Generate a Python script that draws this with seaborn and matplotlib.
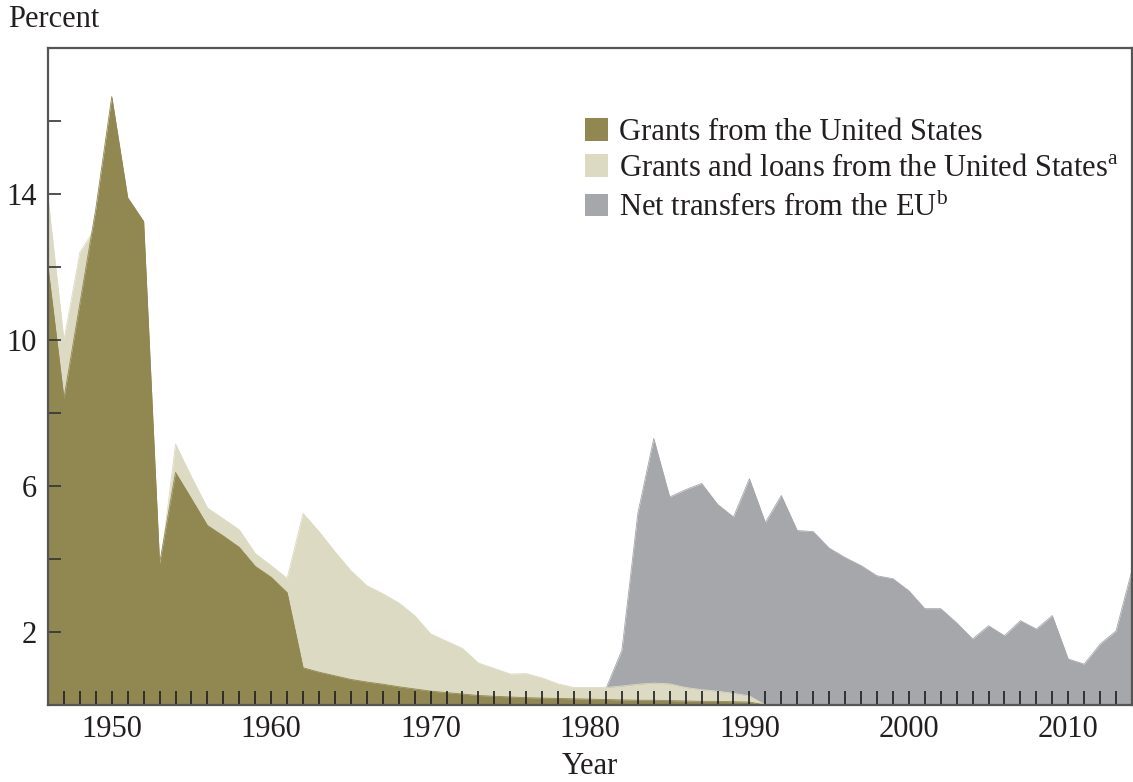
import pandas as pd
import seaborn as sns
import matplotlib.pyplot as plt
from matplotlib.patches import Patch

# anos e valores (percentual)
anos_eua = list(range(1946, 1992))
anos_ue = list(range(1980, 2015))

doacoes_eua = [12.0, 8.4, 11.0, 13.6, 16.67, 13.9, 13.25, 3.88, 6.37, 5.65,
               4.92, 4.63, 4.32, 3.8, 3.5, 3.08, 1.02, 0.9, 0.8, 0.7,
               0.63, 0.57, 0.5, 0.44, 0.38, 0.34, 0.3, 0.26, 0.24, 0.22,
               0.2, 0.19, 0.18, 0.17, 0.16, 0.15, 0.14, 0.13, 0.13, 0.12,
               0.11, 0.1, 0.1, 0.09, 0.08, 0.0]

doacoes_emprestimos_eua = [13.9, 10.0, 12.4, 13.1, 16.0, 13.5, 13.0, 3.6, 7.15, 6.25,
                           5.4, 5.1, 4.8, 4.15, 3.82, 3.47, 5.25, 4.75, 4.2, 3.68,
                           3.27, 3.05, 2.8, 2.45, 1.95, 1.75, 1.55, 1.15, 1.0, 0.85,
                           0.86, 0.74, 0.58, 0.48, 0.48, 0.48, 0.52, 0.57, 0.6, 0.58,
                           0.48, 0.42, 0.38, 0.32, 0.25, 0.0]

transferencias_ue = [0.0, 0.45, 1.5, 5.25, 7.3, 5.7, 5.9, 6.07, 5.5, 5.15,
                     6.2, 5.0, 5.74, 4.78, 4.75, 4.3, 4.04, 3.82, 3.54, 3.46,
                     3.13, 2.64, 2.64, 2.25, 1.81, 2.17, 1.9, 2.31, 2.08, 2.45,
                     1.26, 1.12, 1.67, 2.03, 3.7]

rotulos = ["Grants from the United States",
           r"Grants and loans from the United States$^{\mathrm{a}}$",
           r"Net transfers from the EU$^{\mathrm{b}}$"]
cores = ["#918751", "#dcdac3", "#a6a7ab"]

df = pd.concat([
    pd.DataFrame({"ano": anos_ue, "valor": transferencias_ue, "serie": rotulos[2]}),
    pd.DataFrame({"ano": anos_eua, "valor": doacoes_emprestimos_eua, "serie": rotulos[1]}),
    pd.DataFrame({"ano": anos_eua, "valor": doacoes_eua, "serie": rotulos[0]}),
])

sns.set_style("ticks")
plt.rcParams["font.family"] = ["Liberation Serif", "DejaVu Serif"]
plt.rcParams["mathtext.fontset"] = "custom"
plt.rcParams["mathtext.rm"] = "Liberation Serif"
texto = "#231f20"

fig = plt.figure(figsize=(11.33, 7.82), dpi=100)
ax = fig.add_axes([48 / 1133, 1 - 705 / 782, 1084 / 1133, 657 / 782])

# ordem: UE atrás, depois empréstimos, depois doações (ticks por cima)
paleta = dict(zip(rotulos, cores))
for z, serie in enumerate([rotulos[2], rotulos[1], rotulos[0]]):
    sub = df[df["serie"] == serie]
    ax.fill_between(sub["ano"], 0, sub["valor"], color=paleta[serie], lw=0, zorder=1 + 0.2 * z)
    sns.lineplot(data=sub, x="ano", y="valor", color=paleta[serie], lw=0.6, ax=ax,
                 zorder=1.1 + 0.2 * z)
ax.set_axisbelow(False)

ax.set_xlim(1946, 2014)
ax.set_ylim(0, 18)
ax.set_xticks(range(1950, 2011, 10))
ax.set_xticks(range(1947, 2014), minor=True)
ax.set_yticks([2, 6, 10, 14])
ax.set_yticks([4, 8, 12, 16], minor=True)
ax.tick_params(axis="x", which="both", direction="in", length=10, width=1.2,
               color="#1e1e1e", labelsize=22, labelcolor=texto, pad=7)
ax.tick_params(axis="y", which="both", direction="in", length=9, width=1.2,
               color="#333333", labelsize=22, labelcolor=texto, pad=8)
for lado in ["top", "bottom", "left", "right"]:
    ax.spines[lado].set_color("#555555")
    ax.spines[lado].set_linewidth(1.6)
    ax.spines[lado].set_zorder(10)

ax.set_xlabel("Year", fontsize=22, color=texto, labelpad=6)
ax.set_ylabel("")
fig.text(8 / 1133, 1 - 27 / 782, "Percent", fontsize=22, color=texto, va="baseline")

alcas = [Patch(facecolor=c, edgecolor="none") for c in cores]
ax.legend(alcas, rotulos, loc="upper left", bbox_to_anchor=(585 / 1133, 1 - 118 / 782),
          bbox_transform=fig.transFigure, frameon=False, fontsize=22,
          handlelength=0.75, handleheight=0.75, handletextpad=0.35,
          labelspacing=0.24, borderpad=0, borderaxespad=0, labelcolor=texto)

fig.savefig("out.png", dpi=100)
